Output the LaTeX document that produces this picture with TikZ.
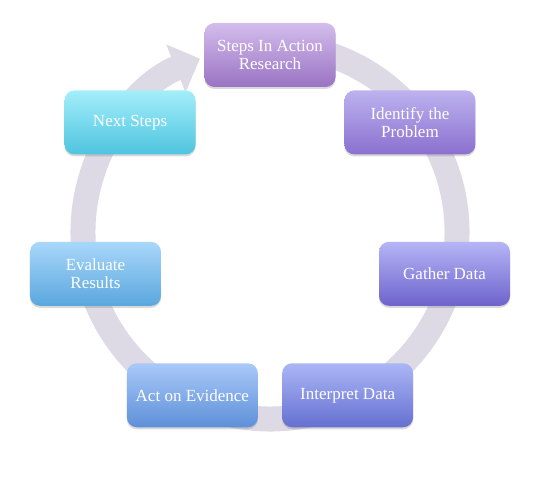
\documentclass[tikz,border=0pt]{standalone}
\usepackage{fontspec}
\setmainfont{Liberation Serif}
\usetikzlibrary{arrows.meta,calc,shadows}
\definecolor{ringgray}{HTML}{DDD9E5}
\definecolor{boxtopa}{HTML}{D3BDEC}
\definecolor{boxbota}{HTML}{9A73C3}
\definecolor{boxtopb}{HTML}{BDB2EF}
\definecolor{boxbotb}{HTML}{8A70CF}
\definecolor{boxtopc}{HTML}{B5B5F6}
\definecolor{boxbotc}{HTML}{6E63CC}
\definecolor{boxtopd}{HTML}{ABB6F6}
\definecolor{boxbotd}{HTML}{6570D1}
\definecolor{boxtope}{HTML}{A9C9F8}
\definecolor{boxbote}{HTML}{5E90D8}
\definecolor{boxtopf}{HTML}{A9D7FA}
\definecolor{boxbotf}{HTML}{5AA7DD}
\definecolor{boxtopg}{HTML}{A3EEFA}
\definecolor{boxbotg}{HTML}{4EC4DF}

\begin{document}
\begin{tikzpicture}[x=1pt,y=1pt,
  stepbox/.style={rounded corners=10pt,minimum width=131pt,minimum height=64pt,align=center,text=white,
    font=\fontsize{17}{18}\selectfont,
    drop shadow={opacity=0.3,shadow xshift=0pt,shadow yshift=-2pt}},
  ring/.style={line width=25pt,ringgray,-{Triangle[length=26pt,width=50pt]}}
]
\useasboundingbox (0,0) rectangle (550,482);
\coordinate (o) at (270,250);
\coordinate (c) at (270,248);
% circular arrow behind the steps
\draw[ring] ($(o)+(82:187)$) arc[start angle=82,end angle=-248,radius=187];
% the seven steps, clockwise from the top
\foreach \a/\n/\t in {90/a/{Steps In Action\\Research},38.57/b/{Identify the\\Problem},-12.86/c/{Gather Data},
  -64.29/d/{Interpret Data},-115.71/e/{Act on Evidence},192.86/f/{Evaluate\\Results},141.43/g/{Next Steps}}{
  \node[stepbox,top color=boxtop\n,bottom color=boxbot\n] (step\n) at ($(c)+(\a:179)$) {\t};
}
\end{tikzpicture}
\end{document}
